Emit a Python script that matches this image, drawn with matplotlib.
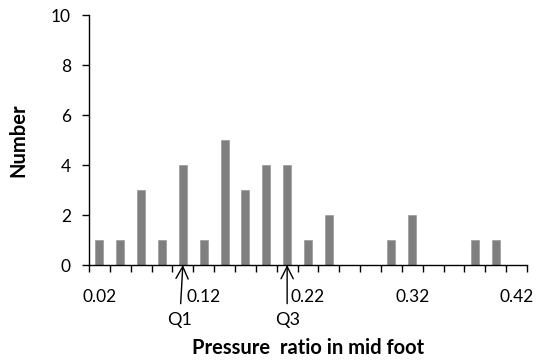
import matplotlib
matplotlib.use("Agg")
import matplotlib.pyplot as plt
import matplotlib.transforms as mtransforms

# Data: histogram counts per pressure ratio bin
ratios = ["0.02", "0.04", "0.06", "0.08", "0.10", "0.12", "0.14", "0.16", "0.18", "0.20", "0.22",
          "0.24", "0.26", "0.28", "0.30", "0.32", "0.34", "0.36", "0.38", "0.40", "0.42"]
counts = [1, 1, 3, 1, 4, 1, 5, 3, 4, 4, 1, 2, 0, 0, 1, 2, 0, 0, 1, 1, 0]
quartiles = {"Q1": "0.10", "Q3": "0.20"}

plt.rcParams['font.family'] = ['Lato', 'DejaVu Sans']

fig = plt.figure(figsize=(5.41, 3.6), dpi=100)
ax = fig.add_axes([89/541, 1 - 265/360, 438/541, 250/360])

pos = list(range(len(ratios)))
ax.bar(pos, counts, width=0.38, color='#7f7f7f', edgecolor='#9a9a9a', linewidth=0.5, zorder=2)

ax.set_xlim(-0.5, len(ratios) - 0.5)
ax.set_ylim(0, 10)
ax.set_yticks(range(0, 11, 2))

# labels on every fifth category, ticks at category boundaries
ax.set_xticks(pos[::5])
ax.set_xticklabels(ratios[::5])
ax.set_xticks([p - 0.5 for p in pos] + [pos[-1] + 0.5], minor=True)
ax.tick_params(axis='x', which='major', length=0, pad=17, labelsize=12.5)
ax.tick_params(axis='x', which='minor', length=5, width=1, direction='out')
ax.tick_params(axis='y', length=5, width=1, direction='out', labelsize=12.5, pad=8)

for s in ['top', 'right']:
    ax.spines[s].set_visible(False)
for s in ['left', 'bottom']:
    ax.spines[s].set_linewidth(1)

# quartile markers: arrow from label up to the axis
trans = mtransforms.blended_transform_factory(ax.transData, ax.transAxes)
offsets = {"Q1": -0.15, "Q3": 0.0}
for q, r in quartiles.items():
    i = ratios.index(r)
    ax.annotate(q, xy=(i, 0), xycoords=trans, xytext=(i + offsets[q], -0.22), textcoords=trans,
                ha='center', va='center', fontsize=13,
                arrowprops=dict(arrowstyle='->', color='black', lw=1.0, shrinkA=4, shrinkB=0,
                                mutation_scale=22))

ax.set_xlabel('Pressure  ratio in mid foot', fontsize=14.5, fontweight='bold')
ax.xaxis.set_label_coords(0.5, -0.29)
ax.set_ylabel('Number', fontsize=14.5, fontweight='bold')
ax.yaxis.set_label_coords(-0.139, 0.5)

fig.savefig('out.png', dpi=100)
